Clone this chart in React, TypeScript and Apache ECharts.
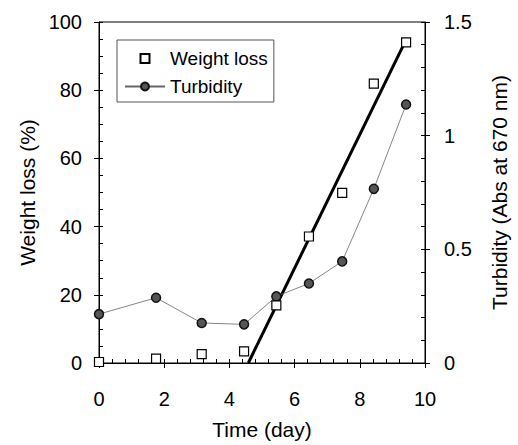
import React, { useEffect, useRef } from "react";
import * as echarts from "echarts";

const days = [0, 1.75, 3.15, 4.45, 5.44, 6.44, 7.46, 8.43, 9.42];
const weightLoss = [0.3, 1.3, 2.6, 3.4, 16.9, 37.1, 49.9, 81.9, 94];
const turbidity = [0.215, 0.287, 0.176, 0.17, 0.293, 0.35, 0.447, 0.766, 1.137];
const fitX = [4.58, 9.38];
const fitY = [0, 94];
const seriesNames = ["Weight loss", "Turbidity"];
const xTitle = "Time (day)";
const yLeftTitle = "Weight loss (%)";
const yRightTitle = "Turbidity (Abs at 670 nm)";

const FONT = "Liberation Sans, Arial, sans-serif";

export default function App() {
  const ref = useRef<HTMLDivElement>(null);
  useEffect(() => {
    if (!ref.current) return;
    const chart = echarts.init(ref.current, undefined, { renderer: "svg" });
    const lbl = { color: "#000", fontSize: 20, fontFamily: FONT };
    const ttl = { color: "#000", fontSize: 21, fontFamily: FONT };
    const axisLine = { show: true, lineStyle: { color: "#000", width: 1 } };
    // overlay axes drawing small inward ticks (minor ticks of the original)
    const minorAxis = (extra: any) => ({
      type: "value",
      axisLine: { show: false },
      axisLabel: { show: false },
      axisTick: { show: true, inside: true, length: 4, lineStyle: { color: "#000", width: 1 } },
      splitLine: { show: false },
      ...extra,
    });
    const squareIcon = "path://M0 0M40 10M15.5 0.5H24.5V9.5H15.5Z";
    chart.setOption({
      animation: false,
      textStyle: { fontFamily: FONT },
      grid: {
        left: 99,
        right: 85,
        top: 22,
        bottom: 79,
        show: true,
        borderColor: "#000",
        borderWidth: 1,
      },
      legend: {
        data: [
          { name: seriesNames[0], icon: squareIcon },
          { name: seriesNames[1] },
        ],
        orient: "vertical",
        left: 117,
        top: 40,
        padding: [9, 6, 6, 7],
        itemGap: 9,
        itemWidth: 40,
        itemHeight: 10,
        borderColor: "#555",
        borderWidth: 1,
        textStyle: { color: "#000", fontSize: 19, fontFamily: FONT },
      },
      xAxis: [
        {
          type: "value",
          min: 0,
          max: 10,
          interval: 2,
          position: "bottom",
          name: xTitle,
          nameLocation: "middle",
          nameGap: 56,
          nameTextStyle: ttl,
          axisLine,
          axisTick: { show: true, inside: false, length: 5, lineStyle: { color: "#000" } },
          axisLabel: { ...lbl, margin: 26 },
          splitLine: { show: false },
        },
        minorAxis({ min: 0, max: 10, interval: 0.4, position: "bottom" }),
      ],
      yAxis: [
        {
          type: "value",
          min: 0,
          max: 100,
          interval: 20,
          position: "left",
          name: yLeftTitle,
          nameLocation: "middle",
          nameGap: 59,
          nameTextStyle: ttl,
          axisLine,
          axisTick: { show: true, inside: false, length: 5, lineStyle: { color: "#000" } },
          axisLabel: { ...lbl, margin: 17 },
          splitLine: { show: false },
        },
        minorAxis({ min: 0, max: 100, interval: 5, position: "left" }),
        {
          type: "value",
          min: 0,
          max: 1.5,
          interval: 0.5,
          position: "right",
          name: yRightTitle,
          nameLocation: "middle",
          nameGap: 64,
          nameTextStyle: ttl,
          axisLine,
          axisTick: { show: true, inside: false, length: 5, lineStyle: { color: "#000" } },
          axisLabel: { ...lbl, margin: 19 },
          splitLine: { show: false },
        },
        minorAxis({ min: 0, max: 1.5, interval: 0.1, position: "right" }),
      ],
      series: [
        {
          name: "fit",
          type: "line",
          xAxisIndex: 0,
          yAxisIndex: 0,
          data: fitX.map((x, i) => [x, fitY[i]]),
          symbol: "none",
          lineStyle: { color: "#000", width: 3 },
          silent: true,
          z: 3,
        },
        {
          name: seriesNames[1],
          type: "line",
          xAxisIndex: 0,
          yAxisIndex: 2,
          data: days.map((d, i) => [d, turbidity[i]]),
          symbol: "circle",
          symbolSize: 9,
          showAllSymbol: true,
          lineStyle: { color: "#666", width: 0.8 },
          itemStyle: { color: "#555", borderColor: "#111", borderWidth: 1.5 },
          z: 4,
        },
        {
          name: seriesNames[0],
          type: "scatter",
          xAxisIndex: 0,
          yAxisIndex: 0,
          data: days.map((d, i) => [d, weightLoss[i]]),
          symbol: "rect",
          symbolSize: 9,
          itemStyle: { color: "#fff", borderColor: "#000", borderWidth: 1.2, opacity: 1 },
          z: 5,
        },
      ],
    });
    return () => chart.dispose();
  }, []);
  return (
    <div
      ref={ref}
      style={{ position: "absolute", left: 0, top: 0, width: 518, height: 445, background: "#fff" }}
    />
  );
}
